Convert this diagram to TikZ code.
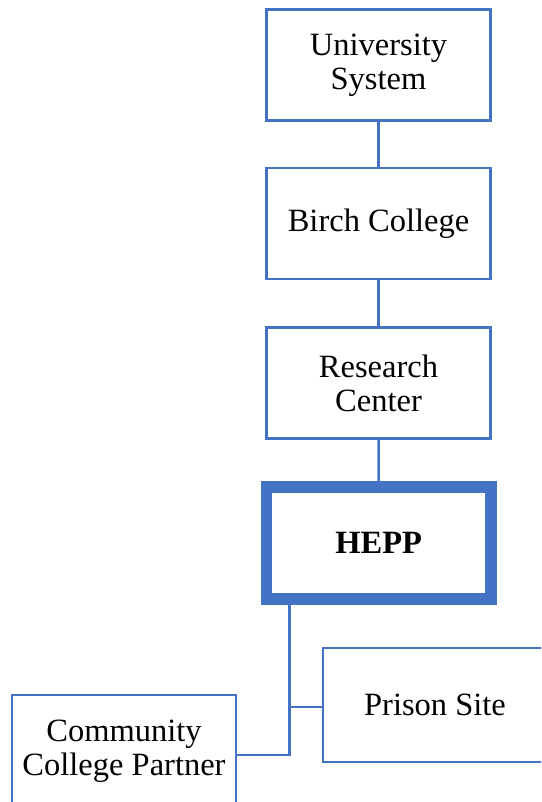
\documentclass[tikz,border=0pt]{standalone}
\usepackage{fontspec}
\setmainfont{Liberation Serif}
\definecolor{boxblue}{HTML}{4472C4}
\begin{document}
\begin{tikzpicture}[x=1pt,y=-1pt,
  orgbox/.style={draw=boxblue, line width=2.5pt, fill=white, minimum width=224pt, minimum height=111pt,
    align=center, inner sep=0pt, font=\fontsize{32.5}{34}\selectfont},
  keybox/.style={orgbox, line width=11.7pt, minimum width=224.5pt, minimum height=112.3pt, font=\fontsize{32.5}{34}\selectfont\bfseries},
  link/.style={draw=boxblue, line width=2.5pt}]
\clip (0,0) rectangle (541,802);
\fill[white] (0,0) rectangle (541,802);
\node[orgbox] (us) at (378.5,65) {University\\System};
\node[orgbox] (bc) at (378.5,223.5) {Birch College};
\node[orgbox] (rc) at (378.5,383) {Research\\Center};
\node[keybox] (hepp) at (378.75,543) {HEPP};
\node[orgbox, minimum height=114pt] (ps) at (435,705) {Prison Site};
\node[orgbox, minimum height=112pt] (cc) at (124,751) {Community\\College Partner};
\coordinate (j) at (289.5,755);
\coordinate (k) at (289.5,707);
\draw[link] (us) -- (bc);
\draw[link] (bc) -- (rc);
\draw[link] (rc) -- (hepp);
\draw[link] (hepp.south -| j) -- (j) -- (j -| cc.east);
\draw[link] (k) -- (k -| ps.west);
\end{tikzpicture}
\end{document}
